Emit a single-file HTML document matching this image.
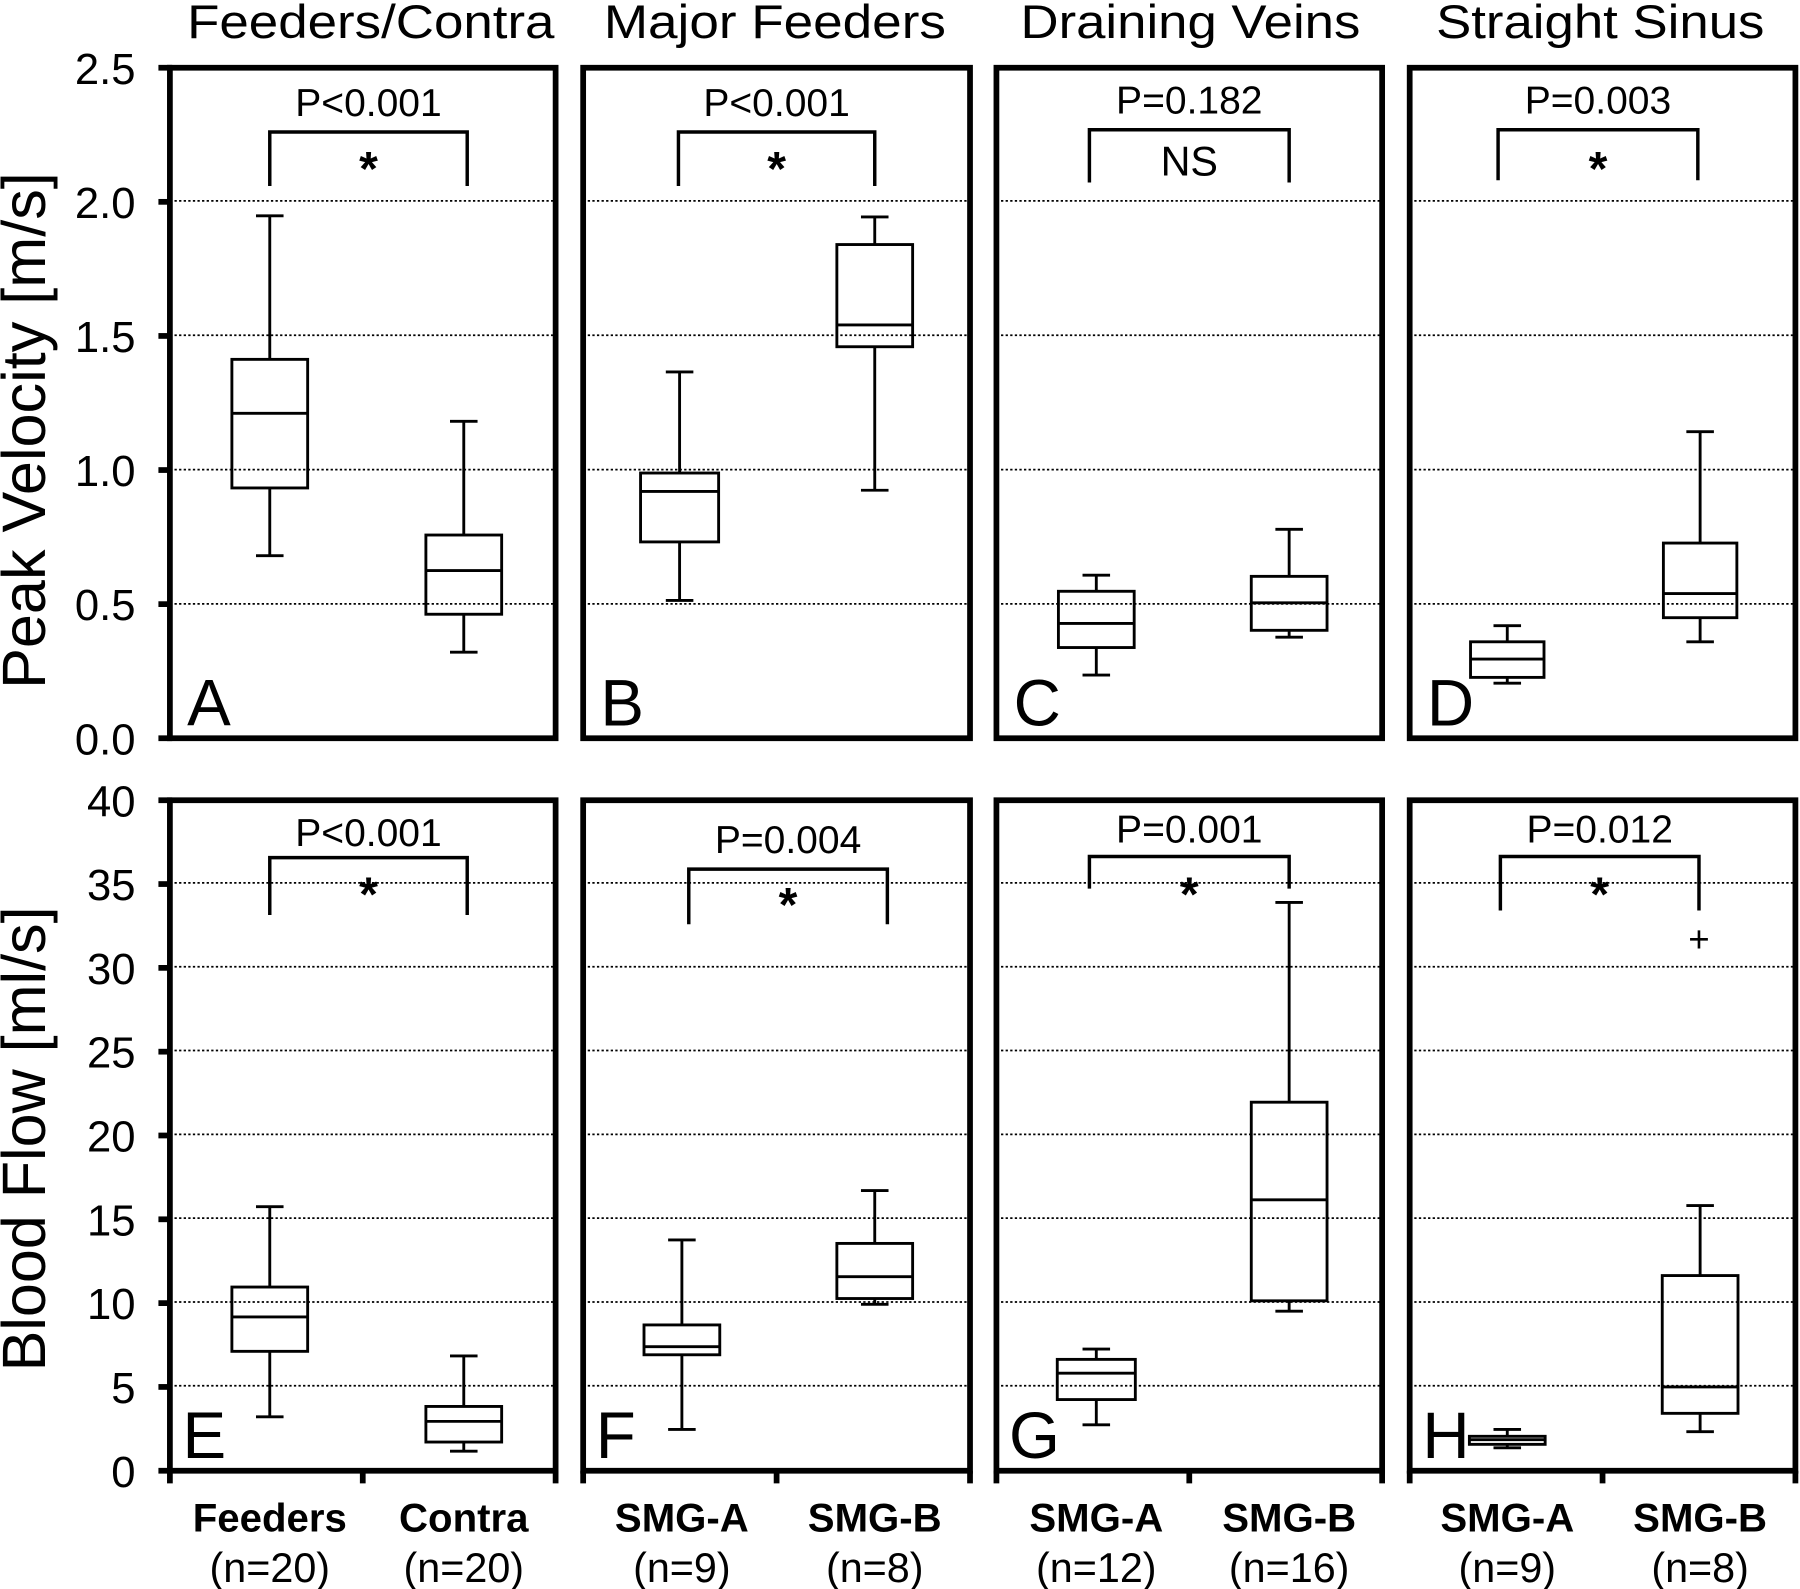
<!DOCTYPE html>
<html><head><meta charset="utf-8"><style>
html,body{margin:0;padding:0;background:#fff;}
svg{display:block;}
text{font-family:"Liberation Sans",Arial,sans-serif;fill:#000;}
</style></head><body>
<svg id="s" width="1800" height="1589" viewBox="0 0 1568 1384" preserveAspectRatio="none" xmlns="http://www.w3.org/2000/svg"></svg>
<script>
var s=document.getElementById('s'),h='';
function L(x1,y1,x2,y2,w,extra){h+='<line x1="'+x1+'" y1="'+y1+'" x2="'+x2+'" y2="'+y2+'" stroke="#000" stroke-width="'+w+'" '+(extra||'')+'/>';}
function T(x,y,t,sz,anc,extra){h+='<text x="'+x+'" y="'+y+'" font-size="'+sz+'" text-anchor="'+(anc||'middle')+'" '+(extra||'')+'>'+t+'</text>';}
var px=[[148,484],[508,845],[868,1204],[1228,1564]];
var titles=['Feeders/Contra','Major Feeders','Draining Veins','Straight Sinus'];
var tl=[320,298,296,286];
var tc=[323,675,1037,1394];
for(var i=0;i<4;i++)T(tc[i],33,titles[i],41,'middle','textLength="'+tl[i]+'" lengthAdjust="spacingAndGlyphs"');
var g1=[526,409,292,175],g2=[1207,1134,1061,988,915,842,769];
px.forEach(function(p){
 g1.forEach(function(y){L(p[0],y,p[1],y,1.5,'stroke="#888" stroke-dasharray="2,2"');});
 g2.forEach(function(y){L(p[0],y,p[1],y,1.5,'stroke="#888" stroke-dasharray="2,2"');});
});
px.forEach(function(p){
 h+='<rect x="'+p[0]+'" y="59" width="'+(p[1]-p[0])+'" height="584" fill="none" stroke="#000" stroke-width="5"/>';
 h+='<rect x="'+p[0]+'" y="697" width="'+(p[1]-p[0])+'" height="584" fill="none" stroke="#000" stroke-width="5"/>';
});
var yl1=['2.5','2.0','1.5','1.0','0.5','0.0'];
for(var k=0;k<6;k++){var y=59+k*116.8;L(138,y,150,y,5);T(118,y+14,yl1[k],38,'end');}
for(var k=0;k<9;k++){var y=697+k*73;L(138,y,150,y,5);T(118,y+14,String(40-5*k),38,'end');}
px.forEach(function(p){[p[0],(p[0]+p[1])/2,p[1]].forEach(function(x){L(x,1281,x,1292,5);});});
T(39,375,'Peak Velocity [m/s]',53,'middle','transform="rotate(-90 39 375)" textLength="450" lengthAdjust="spacingAndGlyphs"');
T(39,992,'Blood Flow [ml/s]',53,'middle','transform="rotate(-90 39 992)" textLength="405" lengthAdjust="spacingAndGlyphs"');
function box(c,hw,t,q3,m,q1,b){
 L(c,t,c,q3,2.5);L(c,q1,c,b,2.5);L(c-12,t,c+12,t,2.5);L(c-12,b,c+12,b,2.5);
 h+='<rect x="'+(c-hw)+'" y="'+q3+'" width="'+(2*hw)+'" height="'+(q1-q3)+'" fill="none" stroke="#000" stroke-width="2.5"/>';
 L(c-hw,m,c+hw,m,2.5);
}
box(235,33,188,313,360,425,484);box(404,33,367,466,497,535,568);
box(592,34,324,412,428,472,523);box(762,33,189,213,283,302,427);
box(955,33,501,515,543,564,588);box(1123,33,461,502,525,549,555);
box(1313,32,545,559,574,590,595);box(1481,32,376,473,517,538,559);
box(235,33,1051,1121,1147,1177,1234);box(404,33,1181,1225,1238,1256,1264);
box(594,33,1080,1154,1173,1180,1245);box(762,33,1037,1083,1112,1131,1136);
box(955,34,1175,1184,1196,1219,1241);box(1123,33,786,960,1045,1133,1142);
box(1313,33,1245,1251,1254,1258,1261);box(1481,33,1050,1111,1208,1231,1247);
T(1480,829,'+',32);
function br(x1,x2,y,y2,ty,p,mark,sy){
 h+='<polyline points="'+x1+','+y2+' '+x1+','+y+' '+x2+','+y+' '+x2+','+y2+'" fill="none" stroke="#000" stroke-width="3"/>';
 T((x1+x2)/2,ty,p,34);
 if(mark=='*')T((x1+x2)/2,sy,mark,42,'middle','font-weight="bold"');else T((x1+x2)/2,sy,mark,36);
}
br(235,407,115,162,101,'P&lt;0.001','*',161);
br(591,762,115,162,101,'P&lt;0.001','*',161);
br(949,1123,113,159,99,'P=0.182','NS',153);
br(1305,1479,113,157,99,'P=0.003','*',161);
br(235,407,747,797,737,'P&lt;0.001','*',793);
br(600,773,757,805,743,'P=0.004','*',802);
br(949,1123,746,774,734,'P=0.001','*',793);
br(1307,1480,746,793,734,'P=0.012','*',793);
var lt=['A','B','C','D'],lb=['E','F','G','H'];
for(var i=0;i<4;i++){T(px[i][0]+15,632,lt[i],57,'start');T(px[i][0]+11,1270,lb[i],57,'start');}
var names=[['Feeders','(n=20)',235],['Contra','(n=20)',404],['SMG-A','(n=9)',594],['SMG-B','(n=8)',762],['SMG-A','(n=12)',955],['SMG-B','(n=16)',1123],['SMG-A','(n=9)',1313],['SMG-B','(n=8)',1481]];
names.forEach(function(n){T(n[2],1334,n[0],35,'middle','font-weight="bold"');T(n[2],1378,n[1],36);});
s.innerHTML=h;
</script>
</body></html>
